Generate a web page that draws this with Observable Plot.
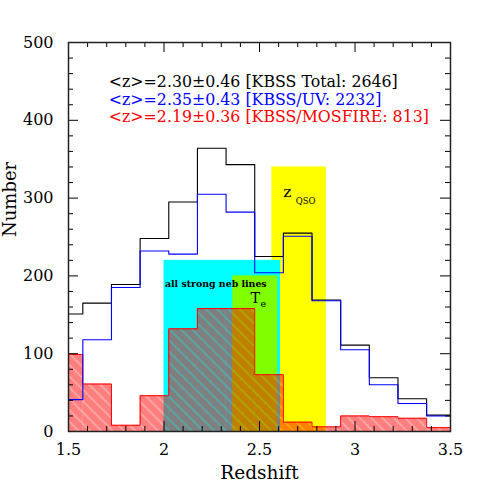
<!DOCTYPE html>
<html><head><meta charset="utf-8">
<script src="https://cdn.jsdelivr.net/npm/d3@7"></script>
<script src="https://cdn.jsdelivr.net/npm/@observablehq/plot@0.6"></script>
<style>body{margin:0;background:#fff}</style>
</head><body><div id="chart"></div>
<script>
// ---- data ----
const binEdges = [1.5,1.575,1.725,1.875,2.025,2.175,2.325,2.475,2.625,2.775,2.925,3.075,3.225,3.375,3.5];
const totalCounts = [151,165,189,248,295,364,343,225,255,169,111,69,42,21];
const uvCounts = [41,118,185,232,228,305,282,204,251,168,105,60,36,20];
const mosfireCounts = [99,61,8,46,132,158,158,73,12,6,20,19,17,5];
const regionX1 = [2.565, 2.0, 2.36];
const regionX2 = [2.85, 2.61, 2.595];
const regionTop = [340, 220, 200];
const regionColors = ["#ffff00", "#00ffff", "#80ff00"];
const legendLines = ["<z>=2.30±0.46 [KBSS Total: 2646]", "<z>=2.35±0.43 [KBSS/UV: 2232]", "<z>=2.19±0.36 [KBSS/MOSFIRE: 813]"];
const legendColors = ["black", "blue", "red"];
const xTicks = [1.5, 2, 2.5, 3, 3.5];
const xTickLabels = ["1.5", "2", "2.5", "3", "3.5"];
const xMinor = [1.6,1.7,1.8,1.9,2.1,2.2,2.3,2.4,2.6,2.7,2.8,2.9,3.1,3.2,3.3,3.4];
const yTicks = [0, 100, 200, 300, 400, 500];
const yMinor = [20,40,60,80,120,140,160,180,220,240,260,280,320,340,360,380,420,440,460,480];

// ---- helpers ----
const W = 491, H = 491, ML = 68, MR = 41, MT = 42, MB = 60;
const FW = W - ML - MR, FH = H - MT - MB;
const steps = counts => counts.flatMap((v, i) => [{x: binEdges[i], y: v}, {x: binEdges[i + 1], y: v}]);
const bars = counts => counts.map((v, i) => ({x1: binEdges[i], x2: binEdges[i + 1], y: v}));
const regions = regionX1.map((x1, i) => ({x1, x2: regionX2[i], y: regionTop[i], c: regionColors[i]}));

const svg = Plot.plot({
  width: W, height: H,
  marginLeft: ML, marginRight: MR, marginTop: MT, marginBottom: MB,
  style: {fontFamily: "'DejaVu Serif'", fontSize: "15px", color: "black", background: "white"},
  x: {domain: [1.5, 3.5]},
  y: {domain: [0, 500]},
  marks: [
    Plot.rectY(regions, {x1: "x1", x2: "x2", y1: 0, y2: "y", fill: d => d.c}),
    Plot.text(["all strong neb lines"], {x: 2.005, y: 190, textAnchor: "start", fontSize: 9.4, fontWeight: "bold"}),
    Plot.text(["T"], {x: 2.453, y: 171, textAnchor: "start", fontSize: 14.5}),
    Plot.text(["e"], {x: 2.505, y: 164, textAnchor: "start", fontSize: 9.5}),
    Plot.text(["z"], {x: 2.624, y: 308, textAnchor: "start", fontSize: 15.5}),
    Plot.text(["QSO"], {x: 2.69, y: 296, textAnchor: "start", fontSize: 8.5}),
    Plot.rectY(bars(mosfireCounts), {x1: "x1", x2: "x2", y1: 0, y2: "y", fill: "url(#hatch)"}),
    Plot.line(steps(mosfireCounts), {x: "x", y: "y", stroke: "red", strokeWidth: 1}),
    Plot.line(steps(totalCounts), {x: "x", y: "y", stroke: "black", strokeWidth: 1.1}),
    Plot.line(steps(uvCounts), {x: "x", y: "y", stroke: "blue", strokeWidth: 1.1}),
    Plot.text(legendLines, {x: 1.711, y: (d, i) => 449 - 22.5 * i, fill: (d, i) => legendColors[i], textAnchor: "start", fontSize: 15.8}),
    Plot.tickX(xTicks, {x: d => d, insetTop: FH - 10, stroke: "black"}),
    Plot.tickX(xTicks, {x: d => d, insetBottom: FH - 10, stroke: "black"}),
    Plot.tickX(xMinor, {x: d => d, insetTop: FH - 5, stroke: "black"}),
    Plot.tickX(xMinor, {x: d => d, insetBottom: FH - 5, stroke: "black"}),
    Plot.tickY(yTicks, {y: d => d, insetRight: FW - 10, stroke: "black"}),
    Plot.tickY(yTicks, {y: d => d, insetLeft: FW - 10, stroke: "black"}),
    Plot.tickY(yMinor, {y: d => d, insetRight: FW - 5, stroke: "black"}),
    Plot.tickY(yMinor, {y: d => d, insetLeft: FW - 5, stroke: "black"}),
    Plot.frame({stroke: "#222", strokeWidth: 1.5}),
    Plot.axisX(xTicks, {tickSize: 0, tickPadding: 12, tickFormat: d => xTickLabels[xTicks.indexOf(d)], label: null, fontSize: 16}),
    Plot.axisY(yTicks, {tickSize: 0, tickPadding: 15, label: null, fontSize: 16}),
    Plot.text(["Redshift"], {frameAnchor: "bottom", dy: 47, fontSize: 18.5}),
    Plot.text(["Number"], {frameAnchor: "left", dx: -58, rotate: -90, fontSize: 18})
  ]
});

d3.select(svg).insert("defs", ":first-child").html(
  `<pattern id="hatch" patternUnits="userSpaceOnUse" width="8" height="8" patternTransform="rotate(-45)">
     <rect x="0" y="0" width="6" height="8" fill="red" fill-opacity="0.5"></rect>
     <rect x="6" y="0" width="2" height="8" fill="red" fill-opacity="0.36"></rect>
   </pattern>`);
document.getElementById("chart").appendChild(svg);
</script>
</body></html>
